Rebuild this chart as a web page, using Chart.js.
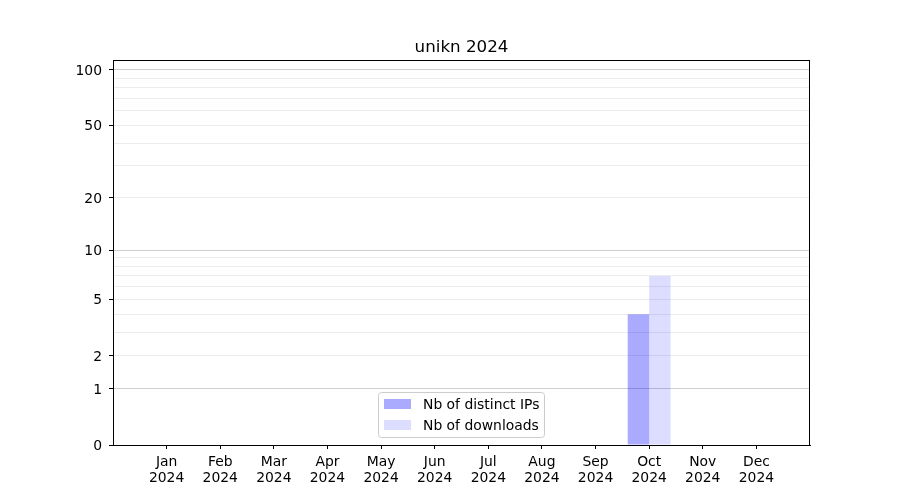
<!DOCTYPE html>
<html lang="en">
<head>
    <meta charset="UTF-8">
    <title>unikn 2024</title>
    <style>
        body, html { margin: 0; padding: 0; background: #fff; }
        .chart-container { width: 900px; height: 500px; }
    </style>
    <script src="https://cdn.jsdelivr.net/npm/chart.js"></script>
</head>
<body>
    <div class="chart-container">
        <canvas id="statsChart" width="900" height="500"></canvas>
    </div>
    <script>
        const months = ['Jan', 'Feb', 'Mar', 'Apr', 'May', 'Jun', 'Jul', 'Aug', 'Sep', 'Oct', 'Nov', 'Dec'];
        const year = '2024';
        const distinctIPs = [0, 0, 0, 0, 0, 0, 0, 0, 0, 4, 0, 0];
        const downloads = [0, 0, 0, 0, 0, 0, 0, 0, 0, 7, 0, 0];
        const yTickLabels = [0, 1, 2, 5, 10, 20, 50, 100];
        const yGridValues = [0, 1, 2, 3, 4, 5, 6, 7, 8, 9, 10, 20, 30, 40, 50, 60, 70, 80, 90, 100];
        const yMajorGrid = [1, 10, 100];
        const yTop = 113;

        const FONT = "'DejaVu Sans', sans-serif";
        // log(1 + x) so that zero stays on the axis
        const tf = v => Math.log10(1 + v);

        const titlePlugin = {
            id: 'plotTitle',
            afterDraw(chart) {
                const { ctx, chartArea } = chart;
                ctx.save();
                ctx.font = '16.7px ' + FONT;
                ctx.fillStyle = '#000';
                ctx.textAlign = 'center';
                ctx.textBaseline = 'middle';
                ctx.fillText('unikn ' + year, (chartArea.left + chartArea.right) / 2, 47.5);
                ctx.restore();
            }
        };

        const framePlugin = {
            id: 'frame',
            afterDraw(chart) {
                const { ctx, chartArea: a } = chart;
                ctx.save();
                ctx.strokeStyle = '#000';
                ctx.lineWidth = 1;
                ctx.strokeRect(Math.round(a.left) + 0.5, Math.round(a.top) + 0.5,
                    Math.round(a.right - a.left) - 1, Math.round(a.bottom - a.top));
                ctx.restore();
            }
        };

        const legendPlugin = {
            id: 'boxLegend',
            afterDraw(chart) {
                const { ctx } = chart;
                const x = 378.5, y = 392.5, w = 166, h = 45;
                ctx.save();
                ctx.fillStyle = 'rgba(255,255,255,0.8)';
                ctx.strokeStyle = '#cccccc';
                ctx.lineWidth = 1;
                ctx.beginPath();
                ctx.roundRect(x, y, w, h, 3);
                ctx.fill();
                ctx.stroke();
                ctx.font = '13.9px ' + FONT;
                ctx.textBaseline = 'middle';
                chart.data.datasets.forEach((ds, i) => {
                    const ry = 399 + i * 21;
                    ctx.fillStyle = ds.backgroundColor;
                    ctx.fillRect(384, ry, 27, 10);
                    ctx.fillStyle = '#000';
                    ctx.fillText(ds.label, 423, ry + 6);
                });
                ctx.restore();
            }
        };

        const ctx = document.getElementById('statsChart').getContext('2d');
        new Chart(ctx, {
            type: 'bar',
            data: {
                datasets: [{
                    label: 'Nb of distinct IPs',
                    data: distinctIPs.map((v, i) => ({ x: i, y: tf(v) })),
                    backgroundColor: 'rgba(0, 0, 255, 0.333)',
                    borderWidth: 0,
                    categoryPercentage: 0.8,
                    barPercentage: 1
                }, {
                    label: 'Nb of downloads',
                    data: downloads.map((v, i) => ({ x: i, y: tf(v) })),
                    backgroundColor: 'rgba(0, 0, 255, 0.133)',
                    borderWidth: 0,
                    categoryPercentage: 0.8,
                    barPercentage: 1
                }]
            },
            options: {
                responsive: false,
                animation: false,
                layout: { padding: { top: 60, right: 90, left: 0, bottom: 0 } },
                plugins: {
                    legend: { display: false },
                    title: { display: false },
                    tooltip: { enabled: false }
                },
                scales: {
                    x: {
                        type: 'linear',
                        min: -1,
                        max: 12,
                        offset: false,
                        afterBuildTicks: scale => {
                            scale.ticks = months.map((m, i) => ({ value: i }));
                        },
                        afterFit: scale => { scale.height = 55; },
                        grid: { drawOnChartArea: false, offset: false, tickLength: 4, tickColor: '#000' },
                        border: { color: '#000', width: 1 },
                        ticks: {
                            autoSkip: false,
                            maxRotation: 0,
                            padding: 5,
                            color: '#000',
                            font: { family: FONT, size: 13.9, lineHeight: 1.15 },
                            callback: (value) => [months[value], year]
                        }
                    },
                    y: {
                        type: 'linear',
                        min: 0,
                        max: tf(yTop),
                        afterBuildTicks: scale => {
                            scale.ticks = yGridValues.map(v => ({ value: tf(v) }));
                        },
                        afterFit: scale => { scale.width = 113; },
                        grid: {
                            tickLength: 4,
                            color: c => {
                                const v = yGridValues[c.index];
                                if (v === 0) return 'rgba(0,0,0,0)';
                                return yMajorGrid.includes(v) ? '#cfcfcf' : '#ececec';
                            },
                            tickColor: c => yTickLabels.includes(yGridValues[c.index]) ? '#000' : 'rgba(0,0,0,0)'
                        },
                        border: { color: '#000', width: 1 },
                        ticks: {
                            autoSkip: false,
                            padding: 7,
                            labelOffset: 1.5,
                            color: '#000',
                            font: { family: FONT, size: 13.9 },
                            callback: (value, index) => {
                                const v = yGridValues[index];
                                return yTickLabels.includes(v) ? String(v) : '';
                            }
                        }
                    }
                }
            },
            plugins: [titlePlugin, framePlugin, legendPlugin]
        });
    </script>
</body>
</html>
